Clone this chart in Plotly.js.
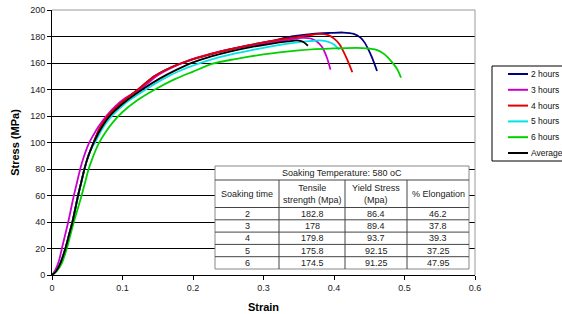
<!DOCTYPE html>
<html><head><meta charset="utf-8">
<script src="https://cdn.plot.ly/plotly-3.0.1.min.js"></script>
<style>html,body{margin:0;padding:0;background:#fff;overflow:hidden}#chart{width:562px;height:314px}</style>
</head><body><div id="chart"></div>
<script>
// ---- curve data ----
const strain2h = [0, 0.006, 0.012, 0.019, 0.024, 0.029, 0.033, 0.037, 0.0415, 0.046, 0.051, 0.056, 0.059, 0.067, 0.079, 0.098, 0.122, 0.145, 0.17, 0.195, 0.22, 0.25, 0.28, 0.31, 0.34, 0.37, 0.395, 0.413, 0.428, 0.438, 0.444, 0.448, 0.454, 0.461];
const stress2h = [0, 3, 9, 20, 30, 40, 50, 60, 70, 80, 89, 96, 100, 110, 120, 130, 140, 150, 157, 162, 166, 170, 173.5, 176.5, 180, 182, 182.7, 183, 182, 179, 175, 171, 164, 154];

const strain3h = [0, 0.005, 0.01, 0.014, 0.0185, 0.023, 0.027, 0.031, 0.0355, 0.040, 0.045, 0.052, 0.058, 0.066, 0.077, 0.09, 0.105, 0.125, 0.148, 0.172, 0.197, 0.222, 0.25, 0.28, 0.31, 0.335, 0.355, 0.367, 0.376, 0.383, 0.39, 0.395];
const stress3h = [0, 4, 11, 20, 30, 40, 50, 60, 70, 80, 89, 99, 105, 112, 120, 127.5, 134, 140, 150, 157, 162.5, 166.5, 170, 173, 175.5, 177.5, 179, 178.5, 176, 172, 164, 155];

const strain4h = [0, 0.006, 0.012, 0.019, 0.024, 0.029, 0.033, 0.037, 0.0415, 0.046, 0.051, 0.056, 0.059, 0.067, 0.079, 0.098, 0.122, 0.145, 0.17, 0.195, 0.22, 0.25, 0.28, 0.31, 0.34, 0.365, 0.38, 0.392, 0.401, 0.408, 0.414, 0.42, 0.426];
const stress4h = [0, 3, 9, 20, 30, 40, 50, 60, 70, 80, 89, 96, 100, 110, 120, 130, 140, 150, 157, 162, 166, 170, 173.5, 176.5, 179, 181, 182, 181, 178, 174, 168, 161, 153];

const strain5h = [0, 0.006, 0.012, 0.019, 0.024, 0.029, 0.033, 0.037, 0.0415, 0.046, 0.051, 0.056, 0.061, 0.071, 0.085, 0.105, 0.133, 0.158, 0.183, 0.208, 0.235, 0.262, 0.29, 0.315, 0.34, 0.365, 0.38, 0.392, 0.4, 0.4075];
const stress5h = [0, 3, 9, 20, 30, 40, 50, 60, 70, 80, 89, 95.5, 100, 110, 120, 130, 140, 148, 154.5, 159.5, 164, 167.5, 170.5, 173, 175, 176.5, 177, 176, 174, 170];

const strain6h = [0, 0.007, 0.014, 0.021, 0.026, 0.031, 0.0365, 0.042, 0.047, 0.052, 0.058, 0.066, 0.075, 0.086, 0.1, 0.12, 0.146, 0.175, 0.2, 0.228, 0.26, 0.3, 0.35, 0.4, 0.44, 0.458, 0.468, 0.476, 0.484, 0.49, 0.495];
const stress6h = [0, 3, 9, 20, 30, 40, 50, 60, 70, 80, 89, 99, 107, 115, 123, 131.5, 140, 148, 153.5, 159.5, 163, 166.5, 169.5, 171, 171.3, 170.3, 168, 164.5, 159.5, 155, 149];

const strainAvg = [0, 0.006, 0.012, 0.019, 0.024, 0.029, 0.033, 0.037, 0.0415, 0.046, 0.051, 0.056, 0.062, 0.069, 0.082, 0.102, 0.128, 0.152, 0.177, 0.2, 0.226, 0.255, 0.282, 0.31, 0.335, 0.348, 0.356, 0.363];
const stressAvg = [0, 3, 9, 20, 30, 40, 50, 60, 70, 80, 89, 96, 103, 110, 120, 130, 140, 148, 155, 160.5, 165, 169, 172, 174.5, 176.3, 177, 176, 173];

const seriesNames = ["2 hours", "3 hours", "4 hours", "5 hours", "6 hours", "Average"];
const seriesColors = ["#000080", "#CC00CC", "#E00000", "#00E5E5", "#00D000", "#000000"];

// ---- table data ----
const tableTitle = "Soaking Temperature: 580 oC";
const tableHeaders = ["Soaking time", "Tensile<br>strength (Mpa)", "Yield Stress<br>(Mpa)", "% Elongation"];
const soakTime = ["2", "3", "4", "5", "6"];
const tensileStrength = ["182.8", "178", "179.8", "175.8", "174.5"];
const yieldStress = ["86.4", "89.4", "93.7", "92.15", "91.25"];
const elongation = ["46.2", "37.8", "39.3", "37.25", "47.95"];

const xTicks = [0, 0.1, 0.2, 0.3, 0.4, 0.5, 0.6];
const yTicks = [0, 20, 40, 60, 80, 100, 120, 140, 160, 180, 200];

// ---- layout geometry (pixels) ----
const FW = 562, FH = 314;
const L = 52, R = 475, T = 10, B = 275;
const W = R - L, H = B - T;
const px = x => (x - L) / W;
const py = y => (B - y) / H;

const xs = [strain2h, strain3h, strain4h, strain5h, strain6h, strainAvg];
const ys = [stress2h, stress3h, stress4h, stress5h, stress6h, stressAvg];
const traces = seriesNames.map((n, i) => ({
  type: "scatter", mode: "lines", name: n,
  x: xs[i], y: ys[i], showlegend: false,
  line: {color: seriesColors[i], width: 1.8, shape: "spline", smoothing: 0.8}
}));

const FONT = "Liberation Sans, Arial, sans-serif";
const shapes = [];
const annotations = [];

// plot frame top/right (gray)
shapes.push({type: "line", xref: "paper", yref: "paper", x0: 0, x1: 1, y0: 1, y1: 1, line: {color: "#999", width: 1}, layer: "above"});
shapes.push({type: "line", xref: "paper", yref: "paper", x0: 1, x1: 1, y0: 0, y1: 1, line: {color: "#999", width: 1}, layer: "above"});

// ---- legend box (beside the plot, its right side beyond the window edge as in the reference) ----
const lgL = 492, lgR = 575, lgT = 66, lgB = 161;
const lgFirst = 74, lgStep = 15.8, lgLine0 = 508, lgLine1 = 528, lgText = 529;
shapes.push({type: "rect", xref: "paper", yref: "paper", x0: px(lgL), x1: px(lgR), y0: py(lgB), y1: py(lgT),
  fillcolor: "#fff", line: {color: "#000", width: 1}, layer: "above"});
seriesNames.forEach((n, i) => {
  const yy = lgFirst + i * lgStep;
  shapes.push({type: "line", xref: "paper", yref: "paper", x0: px(lgLine0), x1: px(lgLine1), y0: py(yy), y1: py(yy),
    line: {color: seriesColors[i], width: 2}, layer: "above"});
  annotations.push({xref: "paper", yref: "paper", x: px(lgText), y: py(yy), text: n, showarrow: false,
    xanchor: "left", yanchor: "middle", font: {family: FONT, size: 8.5, color: "#111"}});
});

// ---- table ----
const tL = 215, tR = 469, tT = 166, tB = 269;
const titleBottom = 180;
const colEdges = [tL, 279, 345, 407, tR];
const rowEdges = [207.5, 219.8, 232.1, 244.4, 256.7, tB];
shapes.push({type: "rect", xref: "paper", yref: "paper", x0: px(tL), x1: px(tR), y0: py(tB), y1: py(tT),
  fillcolor: "#fff", line: {color: "#888", width: 1}, layer: "above"});
shapes.push({type: "line", xref: "paper", yref: "paper", x0: px(tL), x1: px(tR), y0: py(titleBottom), y1: py(titleBottom), line: {color: "#444", width: 1}, layer: "above"});
rowEdges.slice(0, -1).forEach(r => shapes.push({type: "line", xref: "paper", yref: "paper", x0: px(tL), x1: px(tR), y0: py(r), y1: py(r), line: {color: "#444", width: 1}, layer: "above"}));
colEdges.slice(1, -1).forEach(c => shapes.push({type: "line", xref: "paper", yref: "paper", x0: px(c), x1: px(c), y0: py(tB), y1: py(titleBottom), line: {color: "#444", width: 1}, layer: "above"}));

const tf = {family: FONT, size: 9, color: "#222"};
annotations.push({xref: "paper", yref: "paper", x: px((tL + tR) / 2), y: py((tT + titleBottom) / 2), text: tableTitle, showarrow: false, font: tf, xanchor: "center", yanchor: "middle"});
const colCenters = colEdges.slice(0, -1).map((c, i) => (c + colEdges[i + 1]) / 2);
tableHeaders.forEach((h, i) => annotations.push({xref: "paper", yref: "paper", x: px(colCenters[i]), y: py((titleBottom + rowEdges[0]) / 2), text: h, showarrow: false, font: tf, xanchor: "center", yanchor: "middle"}));
const cols = [soakTime, tensileStrength, yieldStress, elongation];
cols.forEach((col, ci) => col.forEach((v, ri) => annotations.push({
  xref: "paper", yref: "paper", x: px(colCenters[ci]), y: py((rowEdges[ri] + rowEdges[ri + 1]) / 2),
  text: v, showarrow: false, font: tf, xanchor: "center", yanchor: "middle"
})));

const layout = {
  width: FW, height: FH,
  margin: {l: L, r: FW - R, t: T, b: FH - B, pad: 0, autoexpand: false},
  paper_bgcolor: "#fff", plot_bgcolor: "#fff",
  font: {family: FONT, size: 9, color: "#222"},
  showlegend: false,
  xaxis: {range: [0, 0.6], tickvals: xTicks, ticktext: xTicks.map(String), showgrid: false, zeroline: false,
    showline: true, linecolor: "#000", linewidth: 1, ticks: "outside", ticklen: 4, tickcolor: "#000",
    tickfont: {family: FONT, size: 9, color: "#222"},
    title: {text: "<b>Strain</b>", font: {family: FONT, size: 11, color: "#000"}, standoff: 11}},
  yaxis: {range: [0, 200], tickvals: yTicks, showgrid: true, gridcolor: "#000", gridwidth: 1, zeroline: false,
    showline: true, linecolor: "#000", linewidth: 1, ticks: "outside", ticklen: 4, tickcolor: "#000",
    tickfont: {family: FONT, size: 9, color: "#222"},
    title: {text: "<b>Stress (MPa)</b>", font: {family: FONT, size: 11, color: "#000"}, standoff: 8}},
  shapes: shapes,
  annotations: annotations
};

Plotly.newPlot("chart", traces, layout, {displayModeBar: false, staticPlot: true});
</script>
</body></html>
